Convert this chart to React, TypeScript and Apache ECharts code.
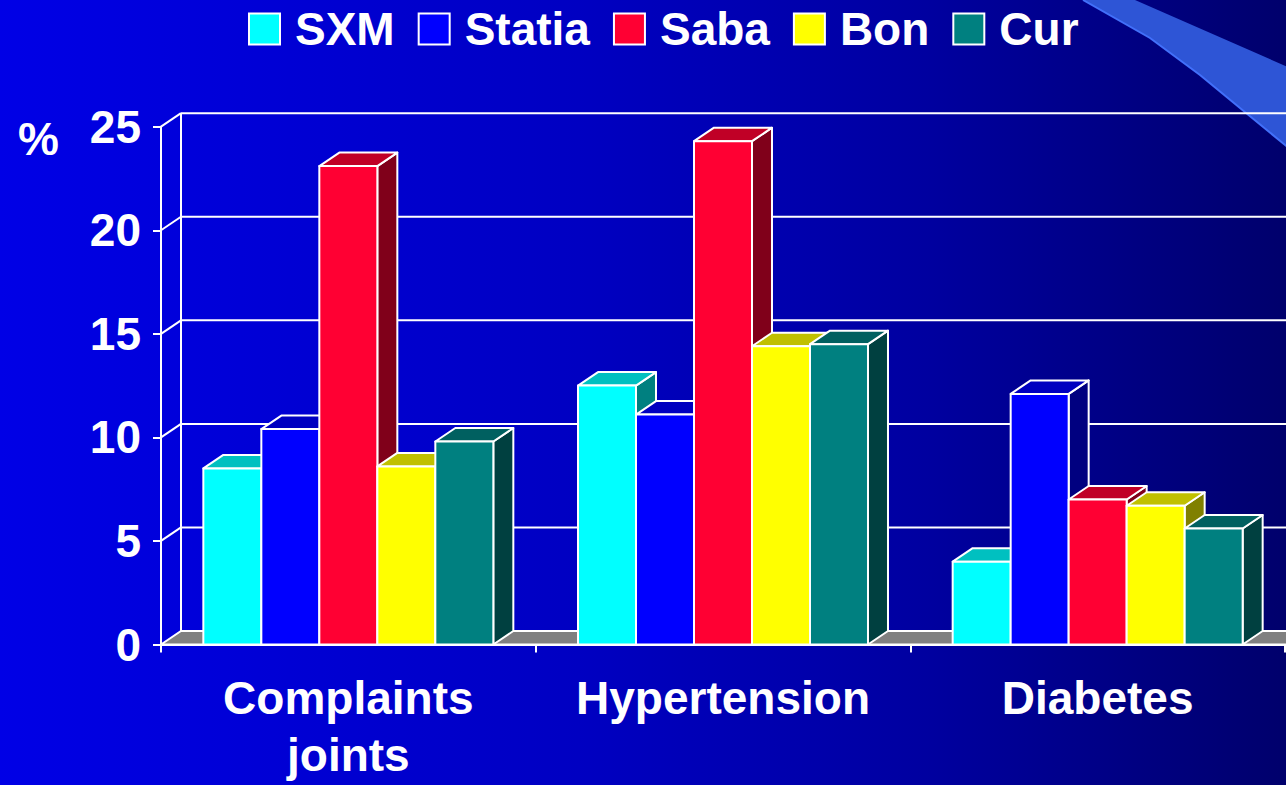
import React, { useEffect, useRef } from "react";
import * as echarts from "echarts";

const categories = ["Complaints\njoints", "Hypertension", "Diabetes"];
const seriesNames = ["SXM", "Statia", "Saba", "Bon", "Cur"];
const sxm = [8.5, 12.5, 4.0];
const statia = [10.4, 11.1, 12.1];
const saba = [23.1, 24.3, 7.0];
const bon = [8.6, 14.4, 6.7];
const cur = [9.8, 14.5, 5.6];
const seriesValues = [sxm, statia, saba, bon, cur];
const yTicks = [0, 5, 10, 15, 20, 25];

const frontColors = ["#00FFFF", "#0000FF", "#FF0033", "#FFFF00", "#008080"];
const topColors = ["#00C0C0", "#0000C0", "#C00026", "#C0C000", "#006060"];
const sideColors = ["#008080", "#000080", "#80001A", "#808000", "#004040"];

const DX = 20;
const DY = -13.5;
const FONT = "'Liberation Sans', Arial, sans-serif";

function barRenderer(k: number) {
  return (params: any, api: any) => {
    const ci = api.value(0);
    const v = api.value(1);
    const base = api.coord([ci, 0]);
    const top = api.coord([ci, v]);
    const catW = api.size([1, 0])[0];
    const barW = (catW * 0.774) / 5;
    const x = base[0] - 2.5 * barW + k * barW;
    const y0 = base[1];
    const y1 = top[1];
    const st = { stroke: "#fff", lineWidth: 2, lineJoin: "round" };
    return {
      type: "group",
      children: [
        {
          type: "polygon",
          shape: { points: [[x + barW, y1], [x + barW + DX, y1 + DY], [x + barW + DX, y0 + DY], [x + barW, y0]] },
          style: { fill: sideColors[k], ...st },
        },
        {
          type: "polygon",
          shape: { points: [[x, y1], [x + DX, y1 + DY], [x + barW + DX, y1 + DY], [x + barW, y1]] },
          style: { fill: topColors[k], ...st },
        },
        {
          type: "rect",
          shape: { x, y: y1, width: barW, height: y0 - y1 },
          style: { fill: frontColors[k], ...st },
        },
      ],
    };
  };
}

function frameRenderer(params: any, api: any) {
  const v = api.value(1);
  const cs = params.coordSys;
  const x0 = cs.x;
  const xEnd = cs.x + cs.width + 40;
  const y = api.coord([0, v])[1];
  const children: any[] = [];
  if (v === 0) {
    children.push({
      type: "polygon",
      shape: { points: [[x0, y], [x0 + DX, y + DY], [xEnd, y + DY], [xEnd, y]] },
      style: { fill: "#808080", stroke: "#fff", lineWidth: 2 },
    });
    const yTop = api.coord([0, 25])[1];
    children.push({
      type: "line",
      shape: { x1: x0 + DX, y1: yTop + DY, x2: x0 + DX, y2: y + DY },
      style: { stroke: "#fff", lineWidth: 2 },
    });
  } else {
    children.push({
      type: "line",
      shape: { x1: x0 + DX, y1: y + DY, x2: xEnd, y2: y + DY },
      style: { stroke: "#fff", lineWidth: 2 },
    });
    children.push({
      type: "line",
      shape: { x1: x0, y1: y, x2: x0 + DX, y2: y + DY },
      style: { stroke: "#fff", lineWidth: 2 },
    });
  }
  return { type: "group", children };
}

export default function App() {
  const ref = useRef<HTMLDivElement>(null);
  useEffect(() => {
    if (!ref.current) return;
    const chart = echarts.init(ref.current, undefined, { renderer: "svg" });
    const bars = seriesNames.map((name, k) => ({
      name,
      type: "custom",
      renderItem: barRenderer(k),
      itemStyle: { color: frontColors[k] },
      data: seriesValues[k].map((v, i) => [i, v]),
      z: 3,
      silent: true,
    }));
    chart.setOption({
      animation: false,
      textStyle: { fontFamily: FONT },
      legend: {
        data: seriesNames,
        left: 243,
        top: 1,
        icon: "rect",
        itemWidth: 31,
        itemHeight: 31,
        itemGap: 23,
        itemStyle: { borderColor: "#fff", borderWidth: 2 },
        textStyle: {
          color: "#fff",
          fontSize: 46,
          fontWeight: "bold",
          fontFamily: FONT,
          lineHeight: 31,
          padding: [0, 0, 0, 10],
        },
        selectedMode: false,
      },
      grid: { left: 161, right: 1, top: 126.7, bottom: 140.5 },
      xAxis: {
        type: "category",
        data: categories,
        axisLine: { lineStyle: { color: "#fff", width: 2 } },
        axisTick: { show: true, interval: 0, length: 8, lineStyle: { color: "#fff", width: 2 } },
        axisLabel: {
          interval: 0,
          color: "#fff",
          fontSize: 46,
          fontWeight: "bold",
          fontFamily: FONT,
          lineHeight: 57,
          margin: 25,
        },
        z: 4,
      },
      yAxis: {
        type: "value",
        min: 0,
        max: 25,
        interval: 5,
        axisLine: { show: true, lineStyle: { color: "#fff", width: 2 } },
        axisTick: { show: true, length: 8, lineStyle: { color: "#fff", width: 2 } },
        splitLine: { show: false },
        axisLabel: {
          color: "#fff",
          fontSize: 46,
          fontWeight: "bold",
          fontFamily: FONT,
          margin: 20,
        },
      },
      graphic: [
        {
          type: "polygon",
          z: -10,
          silent: true,
          shape: {
            points: [[1083, 0], [1135, 0], [1290, 68], [1290, 149], [1240, 108], [1200, 75], [1150, 38]],
          },
          style: { fill: "#2E55D6" },
        },
        {
          type: "polyline",
          z: -9,
          silent: true,
          shape: { points: [[1083, 0], [1150, 38], [1200, 75], [1240, 108], [1290, 149]] },
          style: { stroke: "#4270FA", lineWidth: 2, fill: null },
        },
        {
          type: "text",
          left: 18,
          top: 116,
          style: { text: "%", fill: "#fff", font: `bold 46px ${FONT}` },
        },
      ],
      series: [
        {
          name: "frame",
          type: "custom",
          renderItem: frameRenderer,
          data: yTicks.map((v) => [0, v]),
          z: 1,
          silent: true,
        },
        ...bars,
      ],
    });
    return () => chart.dispose();
  }, []);
  return (
    <div
      ref={ref}
      style={{
        position: "fixed",
        left: 0,
        top: 0,
        width: 1286,
        height: 785,
        background:
          "linear-gradient(to right, #0000E6 0%, #0000C2 45%, #0000A0 72%, #00006C 100%)",
      }}
    />
  );
}
